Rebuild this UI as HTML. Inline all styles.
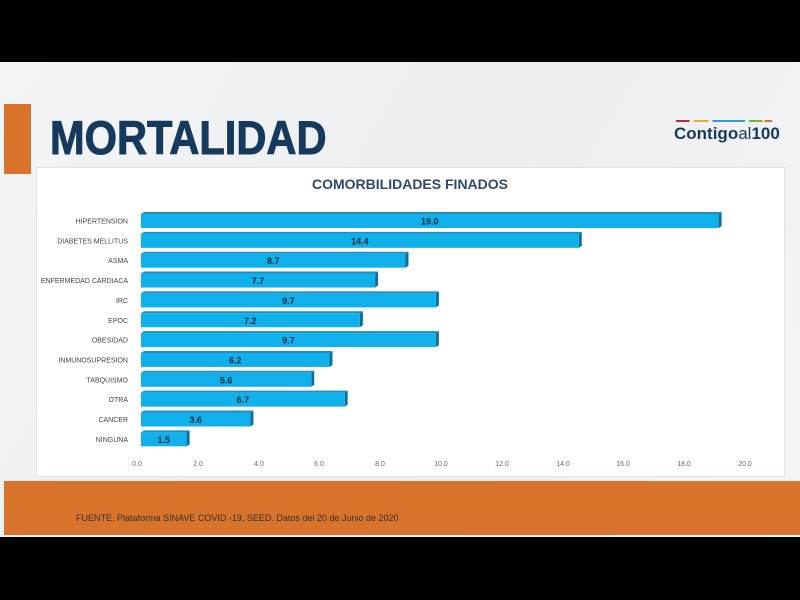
<!DOCTYPE html>
<html><head><style>
body{margin:0;width:800px;height:600px;background:#000;position:relative;overflow:hidden;font-family:"Liberation Sans",sans-serif}
.slide{position:absolute;left:0;top:62px;width:800px;height:475px;background:linear-gradient(120deg,#f3f4f5,#eceef0 50%,#f4f5f6)}
.tab{position:absolute;left:4px;top:42px;width:27px;height:70px;background:#d9722a}
.title{position:absolute;left:50px;top:48px;font-size:47px;font-weight:bold;color:#163a5e;transform:scaleX(0.885);transform-origin:0 0;-webkit-text-stroke:1px #163a5e}
.logo{position:absolute;left:674px;top:62px;font-size:17px;font-weight:bold;color:#163a5e}
.panel{position:absolute;left:36px;top:105px;width:747px;height:308px;background:#fff;border:1px solid #e0e2e4}
.foot{position:absolute;left:4px;top:419px;width:796px;height:54px;background:#d8732c}
.foot span{position:absolute;left:72px;top:32px;font-size:9px;color:#333}
</style></head><body>
<div class="slide">
<div class="tab"></div>
<div class="title">MORTALIDAD</div>
<div style="position:absolute;left:676px;top:58px;width:96px;height:2px;background:linear-gradient(90deg,#a33 0 14%,transparent 14% 18%,#e0b030 18% 34%,transparent 34% 38%,#3a9ad0 38% 72%,transparent 72% 76%,#7ab040 76% 90%,transparent 90% 92%,#d9722a 92%)"></div>
<div class="logo">Contigo<span style="font-weight:normal">al</span>100</div>
<div class="panel"></div>
<div class="foot"><span>FUENTE. Plataforma SINAVE COVID -19, SEED. Datos del 20 de Junio de 2020</span></div>
</div>
<svg width="800" height="600" style="position:absolute;left:0;top:0" font-family="Liberation Sans, sans-serif">
<text x="410" y="189" text-anchor="middle" font-size="14" font-weight="bold" fill="#2d4a6b">COMORBILIDADES FINADOS</text>
<g id="bars"></g>
<g font-size="7" fill="#666" text-anchor="middle">
<text x="137" y="466">0.0</text><text x="198" y="466">2.0</text><text x="259" y="466">4.0</text><text x="319" y="466">6.0</text><text x="380" y="466">8.0</text><text x="441" y="466">10.0</text><text x="502" y="466">12.0</text><text x="563" y="466">14.0</text><text x="623" y="466">16.0</text><text x="684" y="466">18.0</text><text x="745" y="466">20.0</text>
</g>
</svg>
<script>
var d=[["HIPERTENSION",19.0],["DIABETES MELLITUS",14.4],["ASMA",8.7],["ENFERMEDAD CARDIACA",7.7],["IRC",9.7],["EPOC",7.2],["OBESIDAD",9.7],["INMUNOSUPRESION",6.2],["TABQUISMO",5.6],["OTRA",6.7],["CANCER",3.6],["NINGUNA",1.5]];
var s="";d.forEach(function(e,i){var y=221+i*19.85,w=e[1]*30.4,x=141;
s+='<text x="128" y="'+(y+2.5)+'" text-anchor="end" font-size="7" fill="#444">'+e[0]+'</text>';
s+='<polygon points="'+(x+w)+','+(y-7)+' '+(x+w+3)+','+(y-9)+' '+(x+w+3)+','+(y+5)+' '+(x+w)+','+(y+7)+'" fill="#0d6f9a"/>';
s+='<polygon points="'+x+','+(y-7)+' '+(x+3)+','+(y-9)+' '+(x+w+3)+','+(y-9)+' '+(x+w)+','+(y-7)+'" fill="#1a8fc4"/>';
s+='<rect x="'+x+'" y="'+(y-7)+'" width="'+w+'" height="14" fill="#10b0ea"/>';
s+='<text x="'+(x+w/2)+'" y="'+(y+3.5)+'" text-anchor="middle" font-size="9" font-weight="bold" fill="#1a2a3a">'+e[1].toFixed(1)+'</text>';});
document.getElementById("bars").innerHTML=s;
</script>
</body></html>
